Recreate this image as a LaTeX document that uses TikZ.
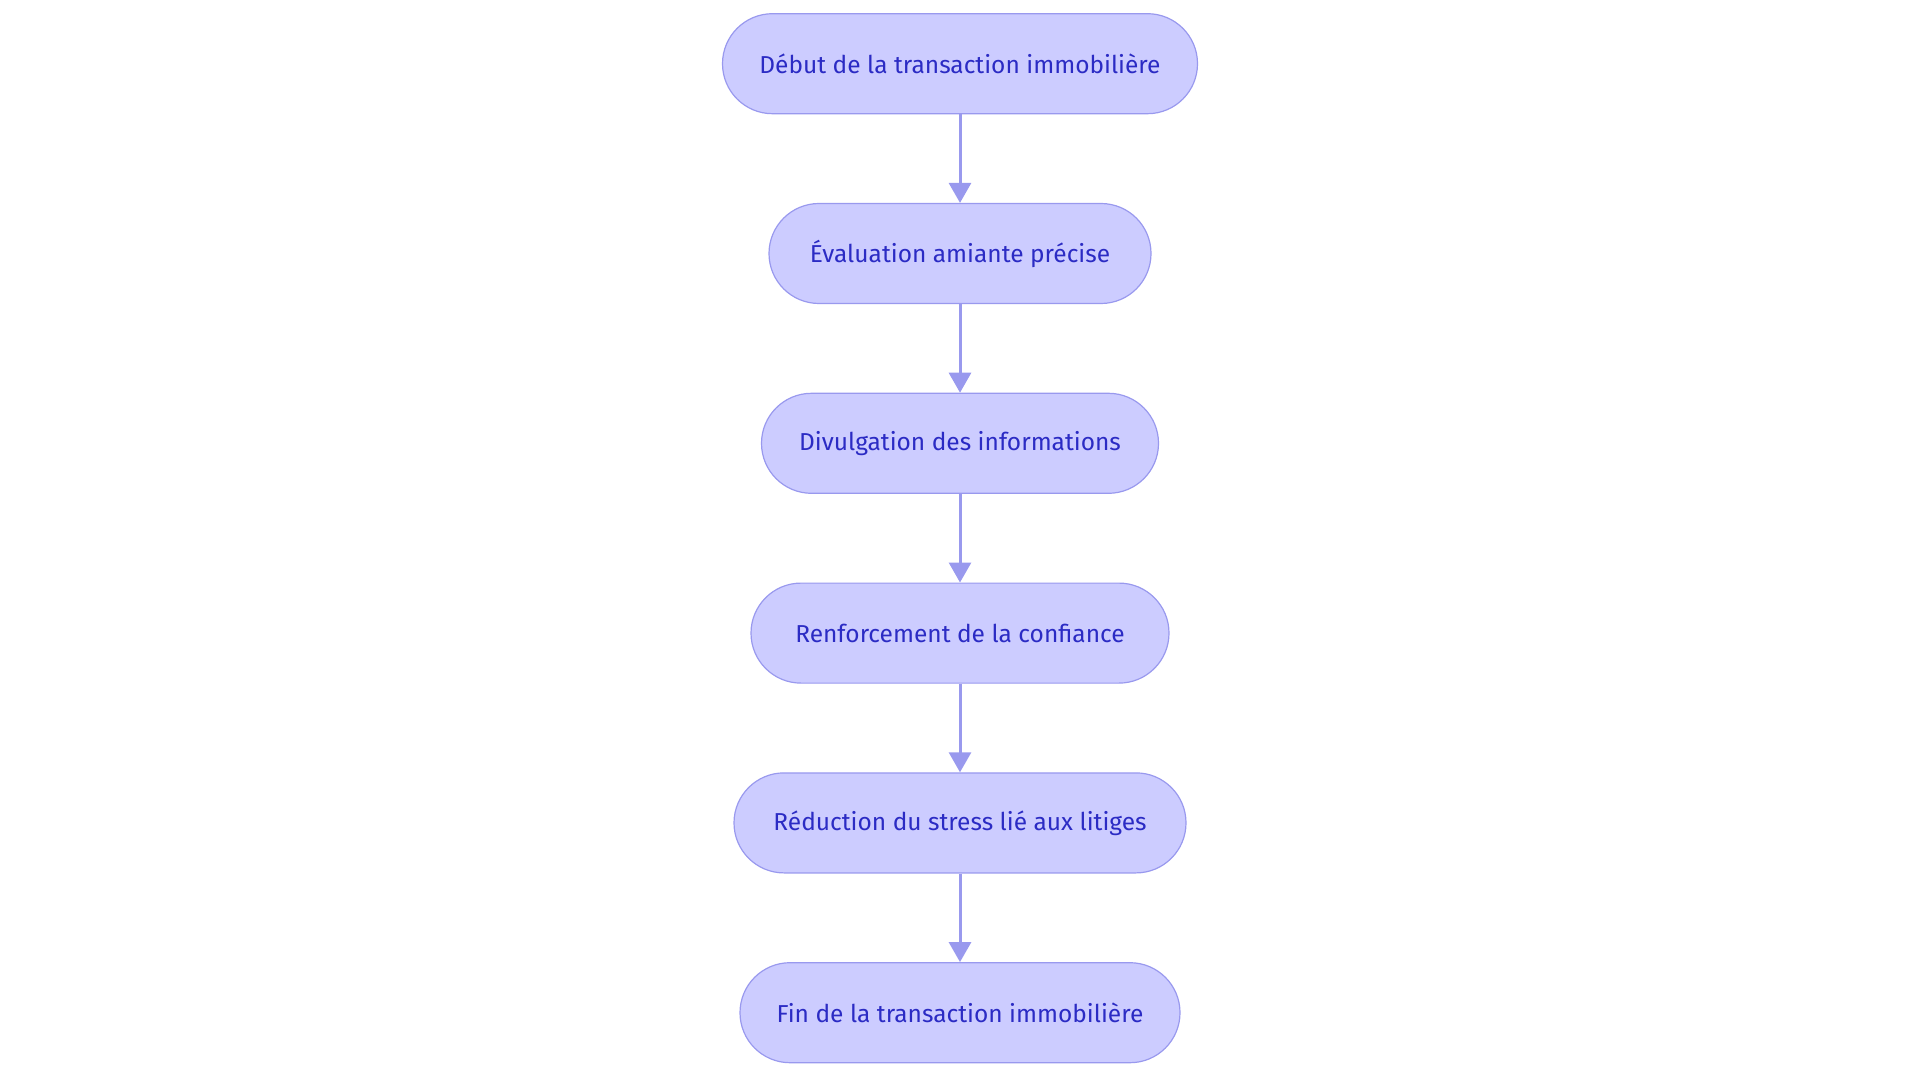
\documentclass[tikz,border=0pt]{standalone}
\usepackage{fontspec}
\setmainfont{Fira Sans}
\usetikzlibrary{arrows.meta}
\definecolor{nfill}{HTML}{CCCCFF}
\definecolor{nline}{HTML}{9999EE}
\definecolor{ntext}{HTML}{2B2BC4}
\begin{document}
\begin{tikzpicture}[x=1pt,y=-1pt,
  box/.style={draw=nline,line width=1.2pt,fill=nfill,rounded corners=50pt,minimum height=100pt,text=ntext,font=\fontsize{24.5}{28}\selectfont,inner sep=0pt},
  arr/.style={draw=nline,line width=3pt,-{Triangle[length=20pt,width=22pt]}}]
\useasboundingbox (0,0) rectangle (1920,1083);
\node[box,minimum width=475pt] (a) at (960,63.7) {Début de la transaction immobilière};
\node[box,minimum width=382pt] (b) at (960,253.5) {Évaluation amiante précise};
\node[box,minimum width=397pt] (c) at (960,443.3) {Divulgation des informations};
\node[box,minimum width=418pt] (d) at (960,633.1) {Renforcement de la confiance};
\node[box,minimum width=452pt] (e) at (960,822.9) {Réduction du stress lié aux litiges};
\node[box,minimum width=440pt] (f) at (960,1012.7) {Fin de la transaction immobilière};
\draw[arr] (a) -- (b);
\draw[arr] (b) -- (c);
\draw[arr] (c) -- (d);
\draw[arr] (d) -- (e);
\draw[arr] (e) -- (f);
\end{tikzpicture}
\end{document}
